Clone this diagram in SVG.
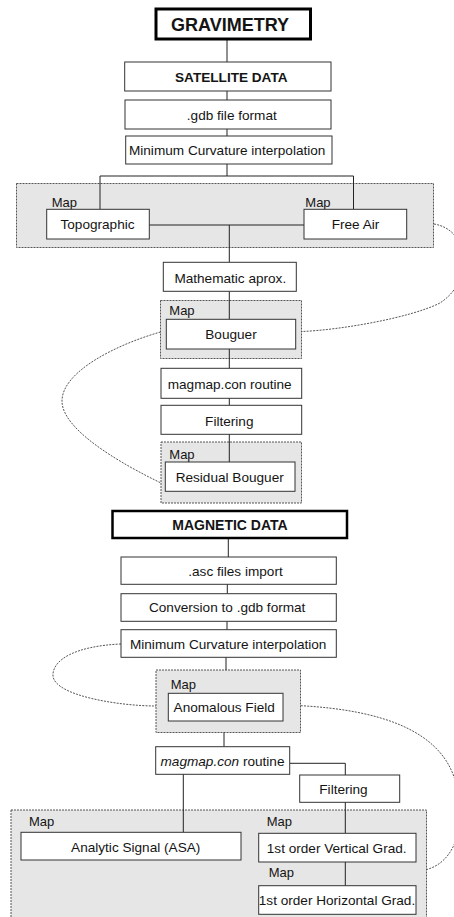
<svg xmlns="http://www.w3.org/2000/svg" width="454" height="917" viewBox="0 0 454 917">
<style>
text{font-family:"Liberation Sans",Arial,sans-serif;font-size:13.6px;fill:#141414;text-anchor:middle}
.lbl{text-anchor:start;font-size:13px}
.b{font-weight:bold}
.box{fill:#fff;stroke:#333;stroke-width:1}
.thick{fill:#fff;stroke:#000;stroke-width:3}
.grp{fill:#e6e6e6;stroke:#555;stroke-width:1;stroke-dasharray:2 1}
.ln{stroke:#222;stroke-width:1;fill:none}
.dash{stroke:#555;stroke-width:1;fill:none;stroke-dasharray:2 1.2}
</style>
<rect width="454" height="917" fill="#fff"/>
<g id="groups">
<rect id="g-maps1" class="grp" x="16.5" y="183.5" width="417" height="64"/>
<rect id="g-bouguer" class="grp" x="160.5" y="300.5" width="141" height="58"/>
<rect id="g-resid" class="grp" x="161" y="442" width="140.5" height="61"/>
<rect id="g-anom" class="grp" x="156" y="670" width="144.5" height="62.5"/>
<rect id="g-maps2" class="grp" x="11" y="810" width="415.5" height="112"/>
</g>
<g id="connectors">
<line class="ln" x1="227" y1="39" x2="227" y2="62"/>
<line class="ln" x1="227" y1="91" x2="227" y2="100"/>
<line class="ln" x1="227" y1="129" x2="227" y2="136"/>
<line class="ln" x1="227" y1="164" x2="227" y2="176"/>
<polyline class="ln" points="100,209 100,176 353.5,176 353.5,209"/>
<line class="ln" x1="149" y1="225" x2="304" y2="225"/>
<line class="ln" x1="229.3" y1="225" x2="229.3" y2="262"/>
<line class="ln" x1="229.3" y1="291" x2="229.3" y2="319"/>
<line class="ln" x1="229.3" y1="349" x2="229.3" y2="368"/>
<line class="ln" x1="229.3" y1="398" x2="229.3" y2="405"/>
<line class="ln" x1="229.3" y1="434" x2="229.3" y2="462"/>
<line class="ln" x1="228.3" y1="538" x2="228.3" y2="557"/>
<line class="ln" x1="227.3" y1="584" x2="227.3" y2="594"/>
<line class="ln" x1="227" y1="621" x2="227" y2="630"/>
<line class="ln" x1="226" y1="657" x2="226" y2="670"/>
<line class="ln" x1="224" y1="732.5" x2="224" y2="747"/>
<polyline class="ln" points="289.7,763.3 345.3,763.3 345.3,775"/>
<line class="ln" x1="345.3" y1="802" x2="345.3" y2="833"/>
<line class="ln" x1="345.3" y1="862" x2="345.3" y2="886"/>
<line class="ln" x1="183.3" y1="774" x2="183.3" y2="832"/>
<path class="dash" d="M434,224 C470,230 475,280 440,303 C410,318 340,330 301.7,331.5"/>
<path class="dash" d="M160.5,332 C115,345 62,372 62,401 C62,432 130,468 161,483"/>
<path class="dash" d="M121,644 C75,646 52,660 53,676 C55,696 120,706 156,706"/>
<path class="dash" d="M300.7,705.7 C380,710 440,730 455,780 C468,825 455,862 426.7,869.5"/>
</g>
<g id="n-gravimetry"><rect class="thick" x="156" y="9" width="154.5" height="30"/><text class="b" x="230" y="30.5" style="font-size:18px">GRAVIMETRY</text></g>
<g id="n-satellite"><rect class="box" x="124.7" y="62" width="206.3" height="29"/><text class="b" x="231.3" y="82">SATELLITE DATA</text></g>
<g id="n-gdb"><rect class="box" x="125" y="100" width="206" height="29"/><text x="231.8" y="120">.gdb file format</text></g>
<g id="n-mincurv1"><rect class="box" x="125.7" y="136" width="206.3" height="28"/><text x="227.2" y="155">Minimum Curvature interpolation</text></g>
<g id="n-topo"><text class="lbl" x="51.7" y="206.5">Map</text><rect class="box" x="46.7" y="209.3" width="102.6" height="29.7"/><text x="97.5" y="229">Topographic</text></g>
<g id="n-freeair"><text class="lbl" x="305.3" y="206.5">Map</text><rect class="box" x="304" y="209.3" width="102.7" height="29.7"/><text x="355.5" y="229">Free Air</text></g>
<g id="n-math"><rect class="box" x="163.3" y="262.3" width="133" height="29"/><text x="230.3" y="282.5">Mathematic aprox.</text></g>
<g id="n-bouguer"><text class="lbl" x="169.3" y="315">Map</text><rect class="box" x="166.3" y="319.3" width="129.4" height="29.7"/><text x="231" y="339">Bouguer</text></g>
<g id="n-magmap1"><rect class="box" x="161" y="368.3" width="140.7" height="30"/><text x="229.7" y="389">magmap.con routine</text></g>
<g id="n-filter1"><rect class="box" x="161" y="405.3" width="140.7" height="29"/><text x="229.3" y="425.5">Filtering</text></g>
<g id="n-residual"><text class="lbl" x="169.3" y="459">Map</text><rect class="box" x="165.3" y="462" width="129.7" height="29.3"/><text x="229.7" y="481.5">Residual Bouguer</text></g>
<g id="n-magnetic"><rect class="thick" x="112.5" y="511" width="234.5" height="27" style="stroke-width:2.5"/><text class="b" x="230" y="530" style="font-size:14px">MAGNETIC DATA</text></g>
<g id="n-asc"><rect class="box" x="121" y="557" width="215.3" height="27.3"/><text x="235.5" y="576">.asc files import</text></g>
<g id="n-conv"><rect class="box" x="121" y="593.7" width="215.3" height="27.6"/><text x="227.2" y="612">Conversion to .gdb format</text></g>
<g id="n-mincurv2"><rect class="box" x="121" y="629.7" width="215.3" height="27.6"/><text x="228.2" y="649">Minimum Curvature interpolation</text></g>
<g id="n-anom"><text class="lbl" x="170.7" y="689">Map</text><rect class="box" x="168.3" y="693.3" width="114.7" height="27.7"/><text x="224.2" y="712">Anomalous Field</text></g>
<g id="n-magmap2"><rect class="box" x="155.7" y="746.7" width="134" height="27.6"/><text x="222.5" y="765.5"><tspan font-style="italic">magmap.con</tspan> routine</text></g>
<g id="n-filter2"><rect class="box" x="299.7" y="775" width="100" height="27.3"/><text x="343.5" y="793.5">Filtering</text></g>
<g id="n-asa"><text class="lbl" x="29" y="825.5">Map</text><rect class="box" x="21" y="832.3" width="220" height="27.7"/><text x="135.7" y="851.5">Analytic Signal (ASA)</text></g>
<g id="n-vgrad"><text class="lbl" x="266.7" y="825.5">Map</text><rect class="box" x="258.7" y="833.3" width="157.3" height="28.7"/><text x="336.7" y="852.5">1st order Vertical Grad.</text></g>
<g id="n-hgrad"><text class="lbl" x="268.7" y="876.5">Map</text><rect class="box" x="258.7" y="885.7" width="157.3" height="28.6"/><text x="337" y="905">1st order Horizontal Grad.</text></g>
</svg>
